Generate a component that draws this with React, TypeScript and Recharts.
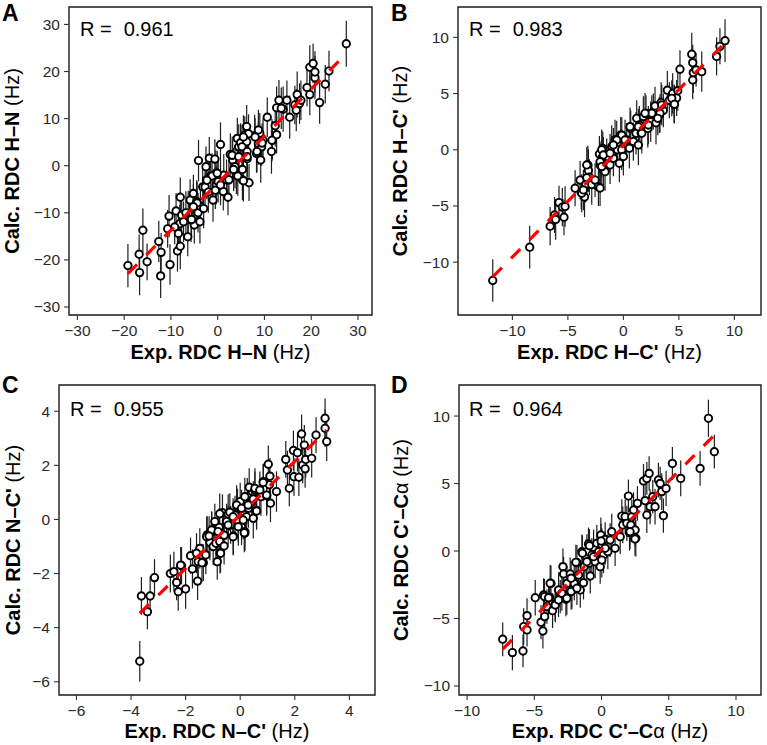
import React from 'react';
import { ScatterChart, Scatter, XAxis, YAxis, ErrorBar, ReferenceArea } from 'recharts';

const FONT = '"Liberation Sans", Arial, Helvetica, sans-serif';

// ---------- Panel A : H–N ----------
const aExp = [-19.2, -16.8, -16.7, -16.0, -15.1, -12.6, -12.1, -12.2, -10.2, -10.7, -10.4, -8.9, -8.6, -8.0, -8.0, -8.1, -8.4, -9.2, -7.7, -6.4, -6.3, -5.9, -5.2, -4.5, -5.0, -5.7, -4.2, -3.8, -3.7, -4.1, -3.2, -2.5, -2.4, -1.8, -1.5, -1.0, -0.6, -0.4, -0.3, 0.1, 0.6, 1.2, 1.9, 2.2, 2.7, 3.2, 3.7, 4.0, 4.2, 4.5, 4.9, 5.3, 5.3, 5.8, 6.2, 6.2, 6.3, 6.7, 7.9, 8.3, 8.7, 9.0, 9.2, 9.4, 9.7, 10.6, 11.5, 11.7, 12.3, 12.6, 12.6, 13.1, 14.0, 14.8, 15.4, 16.5, 16.8, 17.0, 17.5, 19.1, 19.7, 19.7, 20.4, 20.8, 21.8, 23.0, 23.8, 27.5, 20.8, 17.8, -7.3, -6.8, -5.6, -4.4, -3.0, -5.2, -2.7, -2.0, -1.2, -0.5, 0.6, 1.3, 2.4, 3.4, 4.3, 5.5, -0.1, -2.3, 13.6, 6.6, 5.5, 8.7, 8.0, 11.6, 9.5, 5.2, 6.3, 3.1, 4.5, 6.3, 8.4];
const aCalc = [-21.2, -18.8, -22.7, -13.7, -20.4, -16.1, -18.4, -23.4, -21.0, -13.4, -10.7, -9.6, -18.1, -17.1, -6.7, -12.3, -14.4, -13.0, -10.5, -15.1, -10.1, -7.3, -5.9, -7.6, -12.6, -11.5, -10.0, -11.9, -8.6, 1.1, -4.5, -0.2, -3.0, 1.6, -2.2, -7.3, 1.4, -1.6, -4.1, -3.4, 4.5, -5.5, -3.0, -6.7, 2.4, 1.2, -0.2, -2.0, 5.8, 4.0, 4.9, -0.8, -3.0, 6.5, 8.3, 5.1, 1.5, -3.6, 6.4, 2.6, 4.7, 6.9, 1.2, 4.0, 5.4, 10.3, 3.0, 5.4, 8.5, 6.6, 12.3, 13.9, 12.0, 13.9, 10.3, 12.9, 11.8, 15.1, 13.2, 16.6, 15.1, 20.9, 21.7, 18.7, 13.4, 17.3, 20.1, 25.9, 19.9, 13.9, -11.9, -10.0, -11.4, -7.9, -9.1, -8.7, -4.5, -5.6, -2.2, -5.2, -4.1, -2.0, -3.0, -0.8, -2.2, -3.2, -1.6, -3.1, 12.2, 6.8, 6.1, 7.6, 6.1, 5.4, 4.8, 4.0, 3.0, 2.2, 1.9, 1.9, 3.0];
const aErr = [4.6, 4.2, 4.8, 4.6, 3.9, 4.4, 4.1, 4.7, 4.3, 4.0, 4.5, 3.8, 4.4, 4.9, 4.2, 4.0, 4.6, 3.7, 4.3, 4.1, 4.8, 4.4, 4.0, 4.5, 3.9, 4.7, 4.2, 4.6, 4.1, 4.4, 4.8, 4.3, 3.9, 4.5, 4.0, 4.6, 4.2, 4.9, 4.1, 4.4, 4.7, 4.0, 4.3, 3.8, 4.5, 4.2, 4.6, 4.0, 4.4, 4.8, 4.1, 4.5, 4.3, 4.0, 4.6, 4.2, 4.7, 3.9, 4.4, 4.1, 4.5, 4.3, 4.8, 4.0, 4.6, 4.2, 4.7, 4.1, 4.4, 4.0, 4.5, 4.3, 4.8, 4.2, 4.6, 4.1, 4.5, 4.9, 4.3, 4.0, 4.4, 4.7, 4.2, 4.6, 4.5, 4.1, 4.3, 4.9, 4.4, 4.2, 4.3, 4.6, 4.0, 4.5, 4.2, 4.7, 4.1, 4.4, 4.8, 4.0, 4.3, 4.5, 4.1, 4.6, 4.2, 4.4, 4.7, 4.0, 4.4, 4.1, 4.6, 4.3, 4.0, 4.5, 4.2, 4.7, 4.3, 4.0, 4.6, 4.2, 4.4];
const aFitX = [-19.2, 27.5];
const aFitY = [-22.9, 23.8];
const aTicks = [-30, -20, -10, 0, 10, 20, 30];

// ---------- Panel B : H–C' ----------
const bExp = [-11.77, -8.44, -6.6, -6.2, -6.1, -5.8, -5.5, -5.35, -5.25, -4.35, -3.9, -3.8, -3.5, -3.4, -3.2, -3.15, -3.06, -2.85, -2.55, -2.25, -2.16, -2.1, -1.95, -1.86, -1.8, -1.5, -1.2, -1.05, -0.9, -0.75, -0.54, -0.36, -0.24, -0.15, 0.0, 0.3, 0.54, 0.66, 0.9, 1.14, 1.2, 1.35, 1.44, 1.6, 1.8, 2.04, 2.2, 2.46, 2.7, 2.85, 2.94, 3.24, 3.4, 3.6, 3.96, 4.14, 4.44, 4.56, 4.8, 4.9, 5.1, 6.16, 6.25, 6.3, 6.25, 6.55, 7.06, 8.4, 8.7, 9.16, 4.36, 4.6, 3.46, 2.56, 3.3, 1.95, 3.1, 2.25, 1.35, 1.66, 0.6, -0.14, 0.15, -0.6, -0.9, -1.95, -1.8, -1.2, -3.3, -2.1, -3.75, -3.3, -3.6, -1.65, -2.1, -1.95];
const bCalc = [-11.63, -8.67, -6.8, -5.8, -6.2, -4.7, -5.1, -6.0, -5.05, -3.42, -2.7, -3.8, -4.2, -3.1, -1.35, -1.85, -2.44, -3.1, -2.7, -3.3, -0.37, -1.35, -0.76, 0.13, -1.8, -0.6, -1.35, 0.28, -0.76, 0.87, 0.0, -1.2, 1.32, 0.0, -0.6, 0.87, 0.13, 1.9, 0.73, 1.47, 2.8, 0.43, 2.2, 1.5, 2.95, 3.24, 1.9, 2.5, 3.4, 3.9, 2.4, 3.1, 4.2, 3.5, 5.3, 4.4, 5.0, 4.1, 4.6, 5.26, 7.16, 8.5, 7.75, 6.86, 6.2, 7.1, 6.95, 8.3, 9.2, 9.7, 4.58, 4.04, 3.98, 3.24, 3.24, 3.24, 2.8, 2.2, 2.05, 1.47, 2.05, 1.3, 0.87, 0.87, 0.43, 0.0, -0.46, -0.3, -1.35, -1.06, -3.87, -2.5, -3.57, -1.95, -3.4, -1.5];
const bErr = [1.9, 1.9, 1.7, 1.6, 1.8, 1.5, 1.7, 1.6, 1.8, 1.6, 1.7, 1.5, 1.8, 1.6, 1.7, 1.9, 1.6, 1.8, 1.5, 1.7, 1.6, 1.8, 1.7, 1.5, 1.8, 1.6, 1.7, 1.9, 1.6, 1.8, 1.5, 1.7, 1.6, 1.8, 1.7, 1.5, 1.8, 1.6, 1.7, 1.9, 1.6, 1.8, 1.7, 1.5, 1.8, 1.6, 1.7, 1.8, 1.6, 1.7, 1.9, 1.6, 1.8, 1.5, 1.7, 1.6, 1.8, 1.7, 1.6, 1.8, 1.7, 1.9, 1.6, 1.8, 1.7, 1.5, 1.8, 1.7, 1.6, 1.9, 1.6, 1.7, 1.8, 1.6, 1.7, 1.8, 1.5, 1.7, 1.6, 1.8, 1.7, 1.6, 1.8, 1.7, 1.5, 1.8, 1.6, 1.7, 1.6, 1.8, 1.7, 1.6, 1.8, 1.7, 1.6, 1.8];
const bFitX = [-11.77, 9.16];
const bFitY = [-11.3, 9.5];
const bTicks = [-10, -5, 0, 5, 10];

// ---------- Panel C : N–C' ----------
const cExp = [-3.68, -3.62, -3.40, -3.30, -3.14, -2.56, -2.43, -2.33, -2.27, -2.15, -2.0, -1.82, -1.75, -1.56, -1.54, -1.48, -1.35, -1.26, -1.21, -1.11, -1.04, -0.99, -0.89, -0.84, -0.77, -0.74, -0.65, -0.62, -0.5, -0.44, -0.35, -0.25, -0.19, -0.1, -0.07, 0.0, 0.05, 0.11, 0.17, 0.23, 0.26, 0.3, 0.33, 0.42, 0.48, 0.54, 0.6, 0.76, 0.85, 0.97, 1.03, 1.07, 1.09, 1.11, 1.33, 1.67, 1.73, 1.8, 1.95, 1.97, 2.15, 2.25, 2.29, 2.35, 2.38, 2.4, 2.62, 2.78, 3.11, 3.11, 3.17, 2.1, 0.84, 0.54, 0.72, 0.97, 0.17, 0.48, -0.13, 0.05, 0.29, 0.6, -0.38, -0.75, -0.26, 0.11, -0.93, -0.44, -0.07, -1.05, -0.81, 0.17, -1.23, -0.59, -0.26, -0.72, -0.75, -1.14, -0.59, 0.15, -1.4, -2.18, -1.6];
const cCalc = [-5.24, -2.83, -3.41, -2.83, -2.15, -2.0, -1.93, -2.33, -2.67, -1.71, -2.57, -1.34, -1.83, -2.28, -1.56, -1.07, -1.6, -1.31, -0.57, -0.85, -0.45, -1.0, -0.88, -1.56, -0.29, -1.25, 0.25, -0.6, -0.08, 0.2, -0.2, -0.61, 0.16, 0.47, -0.08, 0.66, -0.27, 0.29, -0.51, 0.1, 0.84, 0.41, 1.19, 0.66, 0.04, 1.09, 0.33, 0.84, 1.4, 0.87, 2.04, 1.28, 1.6, 0.6, 1.03, 2.22, 1.83, 1.15, 2.55, 1.58, 1.56, 3.16, 2.01, 2.75, 1.87, 2.22, 2.26, 3.12, 3.74, 3.37, 2.88, 2.47, 1.37, 1.15, 1.09, 0.9, 0.84, 0.76, 0.53, 0.41, 0.53, 0.31, 0.27, 0.21, 0.1, -0.02, -0.08, -0.21, -0.27, -0.39, -0.45, -0.45, -0.64, -0.58, -0.64, -1.25, -0.82, -0.61, -0.98, -0.49, -1.6, -1.69, -1.25];
const cErr = [0.75, 0.7, 0.65, 0.72, 0.68, 0.7, 0.74, 0.66, 0.71, 0.69, 0.73, 0.67, 0.72, 0.7, 0.65, 0.74, 0.68, 0.71, 0.7, 0.66, 0.73, 0.69, 0.72, 0.67, 0.7, 0.75, 0.68, 0.71, 0.66, 0.73, 0.7, 0.69, 0.72, 0.67, 0.74, 0.7, 0.68, 0.71, 0.66, 0.73, 0.69, 0.72, 0.7, 0.67, 0.74, 0.68, 0.71, 0.7, 0.66, 0.73, 0.69, 0.72, 0.67, 0.7, 0.75, 0.68, 0.71, 0.66, 0.73, 0.7, 0.69, 0.72, 0.67, 0.74, 0.7, 0.68, 0.71, 0.66, 0.73, 0.69, 0.72, 0.7, 0.67, 0.74, 0.68, 0.71, 0.7, 0.66, 0.73, 0.69, 0.72, 0.67, 0.7, 0.75, 0.68, 0.71, 0.66, 0.73, 0.7, 0.69, 0.72, 0.67, 0.74, 0.7, 0.68, 0.71, 0.66, 0.73, 0.69, 0.72, 0.7, 0.67, 0.74];
const cFitX = [-3.68, 3.17];
const cFitY = [-3.47, 3.3];
const cTicks = [-6, -4, -2, 0, 2, 4];

// ---------- Panel D : C'–Cα ----------
const dExp = [-7.35, -6.63, -5.84, -5.79, -5.54, -5.54, -4.93, -4.5, -4.36, -4.31, -4.23, -4.06, -3.86, -3.76, -3.64, -3.44, -3.19, -3.07, -2.87, -2.82, -2.65, -2.57, -2.33, -2.2, -2.03, -1.83, -1.71, -1.58, -1.46, -1.34, -1.29, -1.16, -1.09, -0.97, -0.92, -0.84, -0.72, -0.59, -0.47, -0.35, -0.22, -0.1, -0.05, 0.02, 0.15, 0.27, 0.47, 0.64, 1.01, 1.39, 1.51, 1.58, 1.76, 1.88, 2.0, 2.08, 2.18, 2.25, 2.38, 2.5, 2.55, 2.67, 3.12, 3.24, 3.37, 3.37, 3.54, 3.61, 3.81, 3.98, 4.23, 4.36, 4.48, 4.6, 4.8, 5.27, 5.89, 7.33, 7.95, 8.39, -4.24, -3.94, -3.82, -3.44, -3.2, -2.95, -2.58, -2.26, -2.26, -1.91, -1.83, -1.42, -1.09, -0.9, -0.6, -0.03, 0.02, 0.27, 0.76, 2.12, 2.49];
const dCalc = [-6.54, -7.53, -7.41, -5.6, -4.79, -5.85, -3.46, -5.28, -5.93, -3.26, -4.86, -4.12, -3.43, -2.4, -4.42, -3.93, -2.89, -3.38, -1.16, -1.7, -3.58, -2.4, -1.7, -2.96, -2.4, -0.86, -1.78, -2.89, -0.05, -2.35, -1.16, -0.42, -0.05, 0.52, -0.91, -1.85, -0.3, 0.27, -0.79, 0.57, -0.05, -1.16, 1.19, 0.49, -0.3, 0.86, -0.05, 0.81, 0.2, 1.06, 2.59, 1.93, 2.54, 2.05, 4.07, 1.36, 1.93, 2.54, 3.04, 1.56, 0.94, 3.53, 5.19, 3.73, 5.38, 2.67, 5.75, 3.28, 4.02, 3.28, 5.26, 5.01, 4.4, 2.62, 4.64, 6.49, 5.38, 6.12, 9.83, 7.36, -3.38, -3.46, -2.39, -4.0, -3.63, -3.13, -3.5, -3.01, -2.02, -0.84, -2.76, -0.17, -0.79, 0.39, -0.42, 0.74, -0.67, 0.2, 1.43, 1.43, 0.89];
const dErr = [1.25, 1.3, 1.2, 1.35, 1.28, 1.22, 1.32, 1.26, 1.3, 1.24, 1.36, 1.27, 1.21, 1.33, 1.29, 1.25, 1.31, 1.23, 1.35, 1.28, 1.26, 1.3, 1.22, 1.34, 1.27, 1.3, 1.25, 1.32, 1.28, 1.24, 1.36, 1.27, 1.3, 1.22, 1.33, 1.29, 1.25, 1.31, 1.23, 1.35, 1.28, 1.26, 1.3, 1.22, 1.34, 1.27, 1.3, 1.25, 1.32, 1.28, 1.24, 1.36, 1.27, 1.3, 1.22, 1.33, 1.29, 1.25, 1.31, 1.23, 1.35, 1.28, 1.26, 1.3, 1.22, 1.34, 1.27, 1.3, 1.25, 1.32, 1.28, 1.24, 1.36, 1.27, 1.3, 1.22, 1.33, 1.29, 1.38, 1.25, 1.31, 1.23, 1.35, 1.28, 1.26, 1.3, 1.22, 1.34, 1.27, 1.3, 1.25, 1.32, 1.28, 1.24, 1.36, 1.27, 1.3, 1.22, 1.33, 1.29, 1.25];
const dFitX = [-7.35, 8.39];
const dFitY = [-7.28, 8.6];
const dTicks = [-10, -5, 0, 5, 10];

const build = (xs: number[], ys: number[], es: number[]) =>
  xs.map((x, i) => ({ x, y: ys[i], err: es[i] }));
const buildFit = (xs: number[], ys: number[]) => xs.map((x, i) => ({ x, y: ys[i] }));

const fmt = (v: number) => String(v).replace('-', '\u2212');

const Dot = (props: any) => {
  const { cx, cy } = props;
  if (cx == null || cy == null) return <g />;
  return <circle cx={cx} cy={cy} r={3.7} fill="#ffffff" stroke="#000000" strokeWidth={1.9} />;
};

type PanelCfg = {
  left: number; top: number; width: number; height: number;
  x0: number; x1: number; y0: number; y1: number;
  xDomain: [number, number]; yDomain: [number, number];
  xTicks: number[]; yTicks: number[];
  data: { x: number; y: number; err: number }[];
  fit: { x: number; y: number }[];
};

function Panel(c: PanelCfg) {
  const yAxisWidth = c.x0 - c.left;
  const xAxisHeight = c.top + c.height - c.y1;
  const margin = { top: c.y0 - c.top, right: c.left + c.width - c.x1, bottom: 0, left: 0 };
  const tickStyle = { fill: '#2a2a2a', fontSize: 15.5, fontFamily: FONT };
  return (
    <div style={{ position: 'absolute', left: c.left, top: c.top, width: c.width, height: c.height }}>
      <ScatterChart width={c.width} height={c.height} margin={margin}>
        <XAxis
          type="number" dataKey="x" domain={c.xDomain} ticks={c.xTicks} allowDataOverflow
          height={xAxisHeight} tick={tickStyle} tickLine={{ stroke: '#333333', strokeWidth: 1.1 }}
          tickSize={5} tickMargin={5} axisLine={false} tickFormatter={fmt} interval={0}
        />
        <YAxis
          type="number" dataKey="y" domain={c.yDomain} ticks={c.yTicks} allowDataOverflow
          width={yAxisWidth} tick={tickStyle} tickLine={{ stroke: '#333333', strokeWidth: 1.1 }}
          tickSize={5} tickMargin={4} axisLine={false} tickFormatter={fmt} interval={0}
        />
        <Scatter data={c.data} shape={Dot} isAnimationActive={false} fill="#ffffff">
          <ErrorBar dataKey="err" direction="y" width={0} stroke="#1e1e1e" strokeWidth={1.2} />
        </Scatter>
        <Scatter
          data={c.fit} isAnimationActive={false} fill="none" stroke="#ff0000"
          line={{ stroke: '#ff0000', strokeWidth: 3.2, strokeDasharray: '13 13' }}
          shape={() => <g />} legendType="none"
        />
        <ReferenceArea
          x1={c.xDomain[0]} x2={c.xDomain[1]} y1={c.yDomain[0]} y2={c.yDomain[1]}
          fill="none" fillOpacity={0} stroke="#1a1a1a" strokeWidth={1.4} ifOverflow="visible"
        />
      </ScatterChart>
    </div>
  );
}

const panels: PanelCfg[] = [
  {
    left: 0, top: 0, width: 380, height: 370, x0: 69, x1: 372, y0: 7, y1: 315,
    xDomain: [-31.8, 33.0], yDomain: [-31.7, 33.7], xTicks: aTicks, yTicks: aTicks,
    data: build(aExp, aCalc, aErr), fit: buildFit(aFitX, aFitY),
  },
  {
    left: 380, top: 0, width: 387, height: 370, x0: 458, x1: 761, y0: 7, y1: 315,
    xDomain: [-14.9, 12.4], yDomain: [-14.7, 12.7], xTicks: bTicks, yTicks: bTicks,
    data: build(bExp, bCalc, bErr), fit: buildFit(bFitX, bFitY),
  },
  {
    left: 0, top: 370, width: 380, height: 375, x0: 59, x1: 375, y0: 385, y1: 695,
    xDomain: [-6.64, 4.94], yDomain: [-6.49, 4.97], xTicks: cTicks, yTicks: cTicks,
    data: build(cExp, cCalc, cErr), fit: buildFit(cFitX, cFitY),
  },
  {
    left: 380, top: 370, width: 387, height: 375, x0: 459, x1: 761, y0: 385, y1: 695,
    xDomain: [-10.6, 11.86], yDomain: [-10.67, 12.3], xTicks: dTicks, yTicks: dTicks,
    data: build(dExp, dCalc, dErr), fit: buildFit(dFitX, dFitY),
  },
];

const letters = [
  { t: 'A', x: 2, y: 21 },
  { t: 'B', x: 391, y: 21 },
  { t: 'C', x: 2, y: 393 },
  { t: 'D', x: 391, y: 393 },
];
const rLabels = [
  { t: '0.961', x: 80, y: 36 },
  { t: '0.983', x: 469, y: 36 },
  { t: '0.955', x: 70, y: 416 },
  { t: '0.964', x: 469, y: 416 },
];

export default function App() {
  const titleSize = 20;
  return (
    <div style={{ position: 'absolute', left: 0, top: 0, width: 767, height: 745, background: '#ffffff', fontFamily: FONT }}>
      {panels.map((p, i) => (
        <Panel key={i} {...p} />
      ))}
      <svg width={767} height={745} style={{ position: 'absolute', left: 0, top: 0, pointerEvents: 'none' }} fontFamily={FONT}>
        {letters.map((l) => (
          <text key={l.t} x={l.x} y={l.y} fontSize={23} fontWeight="bold" fill="#000">{l.t}</text>
        ))}
        {rLabels.map((r) => (
          <text key={r.t} x={r.x} y={r.y} fontSize={20} fill="#000">
            R =<tspan dx={12}>{r.t}</tspan>
          </text>
        ))}
        {/* x-axis titles */}
        <text x={220.5} y={359} fontSize={titleSize} textAnchor="middle" fill="#000">
          <tspan fontWeight="bold">Exp. RDC H–N</tspan><tspan>{'\u00A0(Hz)'}</tspan>
        </text>
        <text x={609.5} y={359} fontSize={titleSize} textAnchor="middle" fill="#000">
          <tspan fontWeight="bold">Exp. RDC H–C'</tspan><tspan>{'\u00A0(Hz)'}</tspan>
        </text>
        <text x={217} y={738} fontSize={titleSize} textAnchor="middle" fill="#000">
          <tspan fontWeight="bold">Exp. RDC N–C'</tspan><tspan>{'\u00A0(Hz)'}</tspan>
        </text>
        <text x={610} y={738} fontSize={titleSize} textAnchor="middle" fill="#000">
          <tspan fontWeight="bold">Exp. RDC C'–C</tspan><tspan>{'α\u00A0(Hz)'}</tspan>
        </text>
        {/* y-axis titles */}
        <text transform="translate(19,161) rotate(-90)" fontSize={titleSize} textAnchor="middle" fill="#000">
          <tspan fontWeight="bold">Calc. RDC H–N</tspan><tspan>{'\u00A0(Hz)'}</tspan>
        </text>
        <text transform="translate(407,161) rotate(-90)" fontSize={titleSize} textAnchor="middle" fill="#000">
          <tspan fontWeight="bold">Calc. RDC H–C'</tspan><tspan>{'\u00A0(Hz)'}</tspan>
        </text>
        <text transform="translate(20,540) rotate(-90)" fontSize={titleSize} textAnchor="middle" fill="#000">
          <tspan fontWeight="bold">Calc. RDC N–C'</tspan><tspan>{'\u00A0(Hz)'}</tspan>
        </text>
        <text transform="translate(408,540) rotate(-90)" fontSize={titleSize} textAnchor="middle" fill="#000">
          <tspan fontWeight="bold">Calc. RDC C'–C</tspan><tspan>{'α\u00A0(Hz)'}</tspan>
        </text>
      </svg>
    </div>
  );
}
